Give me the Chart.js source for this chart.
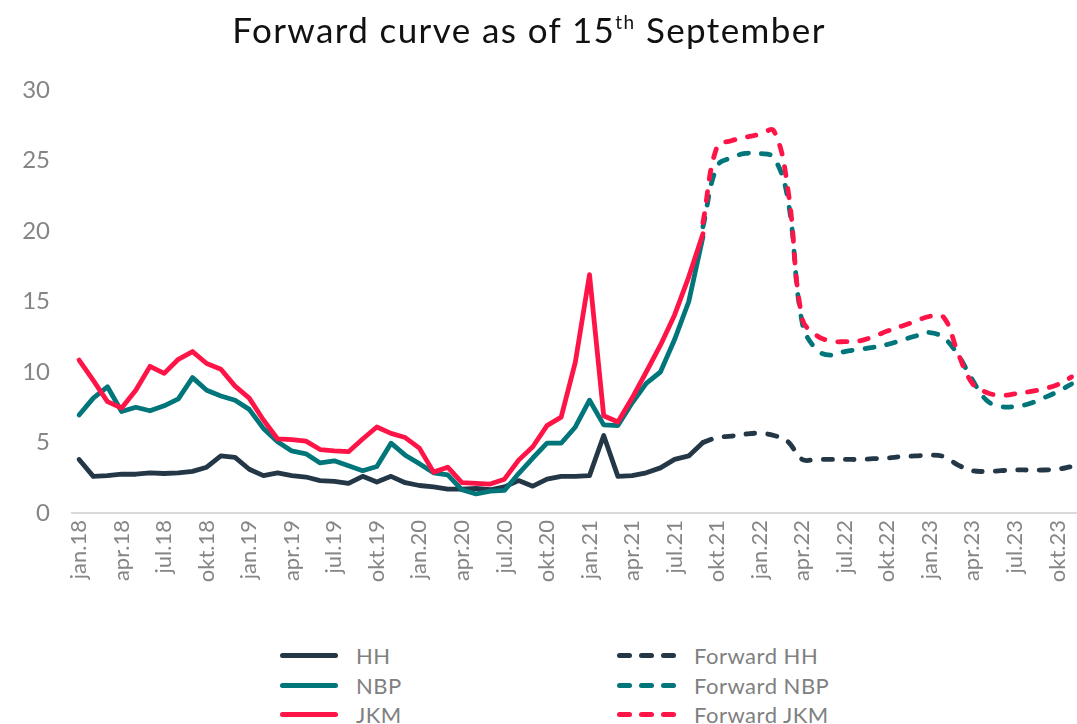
<!DOCTYPE html>
<html>
<head>
<meta charset="utf-8">
<script src="https://cdn.jsdelivr.net/npm/chart.js@4.4.1/dist/chart.umd.min.js"></script>
<style>
  html, body { margin: 0; padding: 0; background: #fff; overflow: hidden; }
  #wrap { position: relative; width: 1077px; height: 724px; overflow: hidden; font-family: Lato, "Noto Sans", sans-serif; }
  #title { position: absolute; left: 0; top: 8px; width: 1058px; text-align: center; font-size: 35px; color: #111; letter-spacing: 1.4px; }
  #title sup { font-size: 19px; vertical-align: 0; position: relative; top: -14px; }
  #chart { position: absolute; left: 0; top: 0; }
  .lg { position: absolute; display: flex; align-items: center; font-size: 22px; color: #808080; height: 28px; letter-spacing: 0.5px; }
  .lg .solid { width: 58px; height: 5px; border-radius: 3px; margin-right: 18px; }
  .lg .dash { display: flex; gap: 7px; margin-right: 18px; }
  .lg .dash span { width: 15px; height: 5px; border-radius: 3px; display: block; }
</style>
</head>
<body>
<div id="wrap">
  <canvas id="chart" width="1105" height="610"></canvas>
  <div id="title">Forward curve as of 15<sup>th</sup> September</div>
  <div id="legend"></div>
</div>
<script>
// kategorier: månedlig jan.18 - nov.23
const maaneder = ['jan', 'feb', 'mar', 'apr', 'mai', 'jun', 'jul', 'aug', 'sep', 'okt', 'nov', 'des'];
const aar = ['18', '19', '20', '21', '22', '23'];
const antallMnd = 71;

// historiske priser (jan.18 - sep.21)
const hh = [3.8, 2.6, 2.65, 2.75, 2.75, 2.85, 2.8, 2.85, 2.95, 3.25, 4.05, 3.95,
  3.1, 2.65, 2.85, 2.65, 2.55, 2.3, 2.25, 2.1, 2.6, 2.2, 2.6, 2.15,
  1.95, 1.85, 1.7, 1.7, 1.75, 1.65, 1.85, 2.3, 1.9, 2.4, 2.6, 2.6,
  2.65, 5.5, 2.6, 2.65, 2.85, 3.2, 3.8, 4.05, 5.0];
const nbp = [6.95, 8.15, 8.95, 7.2, 7.5, 7.25, 7.6, 8.1, 9.6, 8.7, 8.3, 8.0,
  7.35, 6.0, 5.05, 4.4, 4.2, 3.55, 3.7, 3.35, 3.0, 3.3, 4.95, 4.1,
  3.5, 2.85, 2.7, 1.65, 1.35, 1.55, 1.6, 2.8, 3.9, 4.95, 4.95, 6.1,
  8.0, 6.25, 6.2, 7.8, 9.2, 10.0, 12.3, 15.0, 19.6];
const jkm = [10.85, 9.4, 7.9, 7.45, 8.7, 10.4, 9.9, 10.9, 11.45, 10.6, 10.2, 9.0,
  8.15, 6.6, 5.25, 5.2, 5.1, 4.5, 4.4, 4.35, 5.25, 6.1, 5.65, 5.35,
  4.6, 2.9, 3.25, 2.15, 2.1, 2.05, 2.4, 3.75, 4.7, 6.2, 6.8, 10.7,
  16.9, 6.9, 6.45, 8.15, 10.0, 11.9, 14.05, 16.75, 19.8];

// forwardkurver (sep.21 - nov.23)
const fwdHH = [5.0, 5.35, 5.45, 5.6, 5.65, 5.5, 5.05, 3.8, 3.8, 3.8, 3.8, 3.8,
  3.85, 3.9, 4.0, 4.05, 4.1, 4.0, 3.4, 3.0, 2.95, 3.0, 3.05, 3.05,
  3.05, 3.1, 3.3];
const fwdNBP = [20.3, 24.6, 25.2, 25.5, 25.5, 25.2, 22.2, 13.5, 11.6, 11.2, 11.45, 11.6,
  11.75, 11.95, 12.25, 12.55, 12.8, 12.4, 11.2, 9.45, 8.0, 7.55, 7.55, 7.75,
  8.15, 8.6, 9.15];
const fwdJKM = [20.6, 26.0, 26.4, 26.65, 26.85, 27.1, 22.9, 13.8, 12.6, 12.2, 12.15, 12.2,
  12.5, 12.9, 13.25, 13.6, 13.95, 13.85, 11.3, 9.2, 8.55, 8.35, 8.45, 8.6,
  8.8, 9.1, 9.65];

const farger = { hh: '#243746', nbp: '#00757A', jkm: '#FF1447' };

function lagKategorier() {
  const out = [];
  aar.forEach(a => maaneder.forEach(m => out.push(m + '.' + a)));
  return out.slice(0, antallMnd);
}

// legg serie inn på riktig plass i tidsaksen
function plasser(verdier, start) {
  const arr = new Array(antallMnd).fill(null);
  verdier.forEach((v, i) => { arr[start + i] = v; });
  return arr;
}

const kategorier = lagKategorier();
const fwdStart = hh.length - 1;

function serie(label, data, farge, stiplet, order) {
  return {
    label, data, order,
    borderColor: farge,
    backgroundColor: farge,
    borderWidth: 4.8,
    pointRadius: 0,
    pointHoverRadius: 0,
    fill: false,
    spanGaps: false,
    borderCapStyle: 'round',
    borderJoinStyle: 'round',
    borderDash: stiplet ? [9, 13] : [],
    tension: stiplet ? 0.4 : 0
  };
}

const chart = new Chart(document.getElementById('chart'), {
  type: 'line',
  data: {
    labels: kategorier,
    datasets: [
      serie('HH', plasser(hh, 0), farger.hh, false, 5),
      serie('NBP', plasser(nbp, 0), farger.nbp, false, 4),
      serie('JKM', plasser(jkm, 0), farger.jkm, false, 3),
      serie('Forward HH', plasser(fwdHH, fwdStart), farger.hh, true, 2),
      serie('Forward NBP', plasser(fwdNBP, fwdStart), farger.nbp, true, 1),
      serie('Forward JKM', plasser(fwdJKM, fwdStart), farger.jkm, true, 0)
    ]
  },
  options: {
    responsive: false,
    animation: false,
    devicePixelRatio: 1,
    layout: { padding: { top: 90, right: 0, bottom: 0, left: 0 } },
    plugins: {
      legend: { display: false },
      title: { display: false },
      tooltip: { enabled: false }
    },
    scales: {
      x: {
        offset: true,
        grid: { display: false, drawTicks: false },
        border: { display: true, color: '#d9d9d9', width: 2 },
        ticks: {
          autoSkip: false,
          maxRotation: 90,
          minRotation: 90,
          padding: 7,
          color: '#858585',
          font: { family: 'Lato', size: 22 },
          callback: function(val, idx) { return idx % 3 === 0 ? this.getLabelForValue(val) : ''; }
        },
        afterFit: s => { s.height = 97; }
      },
      y: {
        min: 0,
        max: 30,
        grid: { display: false, drawTicks: false },
        border: { display: false },
        ticks: {
          stepSize: 5,
          padding: 22,
          color: '#858585',
          font: { family: 'Lato', size: 24 }
        },
        afterFit: s => { s.width = 72; }
      }
    }
  }
});

// legende i to kolonner, bygget fra datasettene
function lagLegende(ch) {
  const el = document.getElementById('legend');
  const kolX = [280, 617];
  const radY = [641, 671, 700];
  ch.data.datasets.forEach((ds, i) => {
    const kol = i < 3 ? 0 : 1;
    const rad = i % 3;
    const d = document.createElement('div');
    d.className = 'lg';
    d.style.left = kolX[kol] + 'px';
    d.style.top = radY[rad] + 'px';
    let sym;
    if (ds.borderDash.length) {
      sym = '<div class="dash">' + [0, 1, 2].map(() => '<span style="background:' + ds.borderColor + '"></span>').join('') + '</div>';
    } else {
      sym = '<div class="solid" style="background:' + ds.borderColor + '"></div>';
    }
    d.innerHTML = sym + '<span>' + ds.label + '</span>';
    el.appendChild(d);
  });
}
lagLegende(chart);
</script>
</body>
</html>
